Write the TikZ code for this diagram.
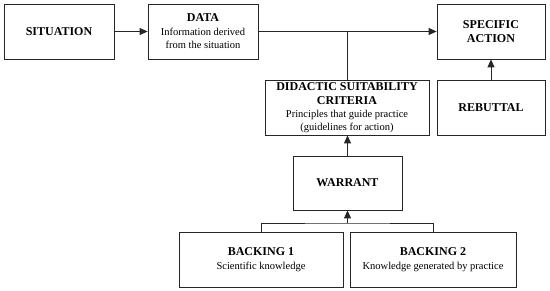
\documentclass[tikz,border=0pt]{standalone}
\usepackage{fontspec}
\setmainfont{Liberation Serif}
\usetikzlibrary{arrows.meta}
\tikzset{
  box/.style={draw=black!85, line width=0.8pt, align=center, inner sep=1pt, anchor=center, font=\fontsize{10.5}{13}\selectfont},
  conn/.style={draw=black!85, line width=0.8pt},
  arr/.style={conn, -{Triangle[length=8pt,width=7pt]}},
}
\newcommand{\ttl}[1]{{\fontsize{12}{13.5}\selectfont\bfseries #1}}
\newcommand{\sub}[1]{{\fontsize{10.5}{12.5}\selectfont #1}}
\begin{document}
\begin{tikzpicture}[x=1pt,y=-1pt]
\useasboundingbox (0,0) rectangle (550,291);
\node[box, minimum width=110pt, minimum height=55pt] (sit) at (59,31.5) {\ttl{SITUATION}};
\node[box, minimum width=110pt, minimum height=55pt] (data) at (203,31.5) {\ttl{DATA}\\[1pt]\sub{Information derived}\\\sub{from the situation}};
\node[box, minimum width=108pt, minimum height=55pt] (spec) at (491,31.5) {\ttl{SPECIFIC}\\[1pt]\ttl{ACTION}};
\node[box, minimum width=164pt, minimum height=55pt] (dsc) at (347,107.5) {\ttl{DIDACTIC SUITABILITY}\\[1pt]\ttl{CRITERIA}\\[0pt]\sub{Principles that guide practice}\\\sub{(guidelines for action)}};
\node[box, minimum width=108pt, minimum height=55pt] (reb) at (491,107.5) {\ttl{REBUTTAL}};
\node[box, minimum width=109pt, minimum height=54pt] (war) at (347.5,183) {\ttl{WARRANT}};
\node[box, minimum width=164pt, minimum height=55pt] (b1) at (261,259.5) {\ttl{BACKING 1}\\[1pt]\sub{Scientific knowledge}};
\node[box, minimum width=166pt, minimum height=55pt] (b2) at (433,259.5) {\ttl{BACKING 2}\\[1pt]\sub{Knowledge generated by practice}};
\coordinate (jn) at (347.5,223);
\draw[arr] (sit.east) -- (data.west);
\draw[arr] (data.east) -- (spec.west);
\draw[conn] (dsc.north) -- (dsc.north |- data.east);
\draw[arr] (reb.north) -- (spec.south);
\draw[arr] (war.north) -- (war.north |- dsc.south);
\draw[conn] (b1.north) |- (jn) -| (b2.north);
\draw[arr] (jn) -- (war.south);
\end{tikzpicture}
\end{document}
